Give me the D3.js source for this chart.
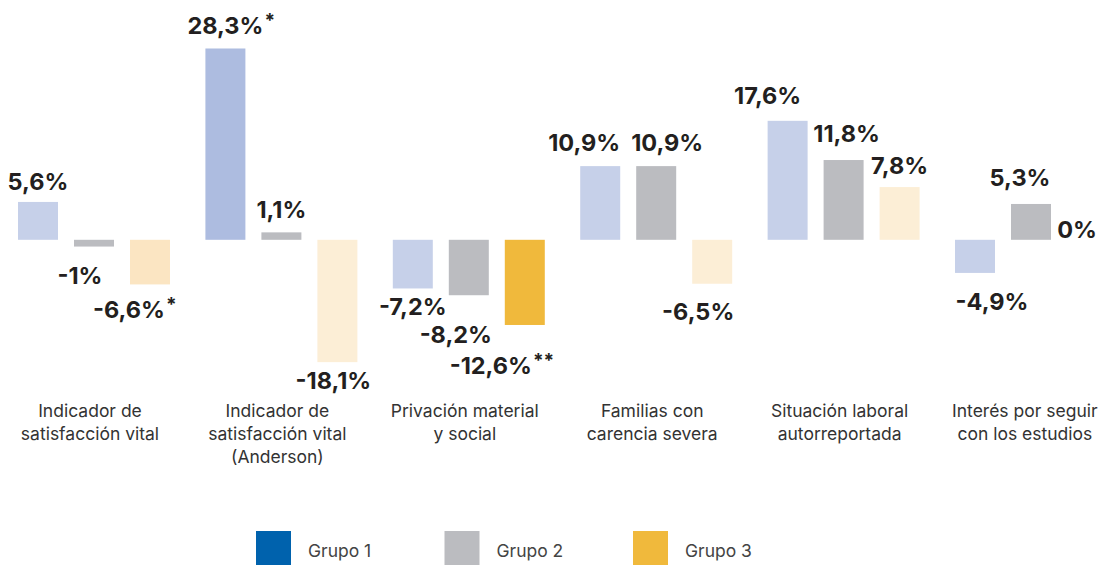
<!DOCTYPE html>
<html lang="es">
<head>
  <meta charset="UTF-8" />
  <title>Grupos - indicadores</title>
  <script src="https://d3js.org/d3.v7.min.js"></script>
  <style>
    body {
      margin: 0;
      background: #fff;
      overflow: hidden;
    }
    svg {
      display: block;
      font-family: Inter, "Noto Sans", sans-serif;
    }
    .val { font-weight: 700; font-size: 23.5px; fill: #231f20; }
    .star { font-weight: 700; font-size: 19px; fill: #231f20; }
    .cat { font-size: 17.5px; fill: #333; }
    .leg { font-size: 17.5px; fill: #444; }
  </style>
</head>
<body>
<svg id="chart" width="1101" height="565"></svg>
<script>
const categories = [
  ["Indicador de", "satisfacción vital"],
  ["Indicador de", "satisfacción vital", "(Anderson)"],
  ["Privación material", "y social"],
  ["Familias con", "carencia severa"],
  ["Situación laboral", "autorreportada"],
  ["Interés por seguir", "con los estudios"]
];
const groups = ["Grupo 1", "Grupo 2", "Grupo 3"];

const grupo1 = [5.6, 28.3, -7.2, 10.9, 17.6, -4.9];
const grupo2 = [-1, 1.1, -8.2, 10.9, 11.8, 5.3];
const grupo3 = [-6.6, -18.1, -12.6, -6.5, 7.8, 0];

// significance marks
const stars1 = ["", "*", "", "", "", ""];
const stars2 = ["", "", "", "", "", ""];
const stars3 = ["*", "", "**", "", "", ""];

const values = [grupo1, grupo2, grupo3];
const stars = [stars1, stars2, stars3];

// label nudges (dx, dy) per group / category, to keep labels clear of each other
const nudge = [
  [[0, 2], [0, 0], [0, -4], [-16, -1], [-20, -3], [17, 6]],
  [[-14, 6], [0, 0], [-13, 17], [11, -1], [3, -4], [-11, -4]],
  [[-21, 3], [-4, -4], [-34, 18], [-14, 5], [0, 1], [-10, 12]]
];

const width = 1101, height = 565;
const svg = d3.select("#chart");

const legendColor = ["#0062ad", "#bbbcc0", "#f0b93c"];
const fillFor = (g, s) => {
  if (g === 0) return s ? "#adbce0" : "#c6d0e9";
  if (g === 1) return "#bbbcc0";
  if (s === "**") return "#f0b93c";
  return s ? "#fbe5c2" : "#fceed6";
};

const x0 = d3.scaleBand()
  .domain(d3.range(categories.length))
  .range([18, 1107])
  .paddingInner(0.189)
  .paddingOuter(0);

const x1 = d3.scaleBand()
  .domain(d3.range(groups.length))
  .range([0, x0.bandwidth()])
  .paddingInner(0.2857)
  .paddingOuter(0);

const y = d3.scaleLinear().domain([-20, 30]).range([375, 37]);

const rows = [];
categories.forEach((c, ci) => {
  groups.forEach((g, gi) => {
    rows.push({ ci, gi, v: values[gi][ci], s: stars[gi][ci] });
  });
});

svg.append("g").selectAll("rect")
  .data(rows)
  .join("rect")
  .attr("x", d => x0(d.ci) + x1(d.gi))
  .attr("width", x1.bandwidth())
  .attr("y", d => y(Math.max(0, d.v)))
  .attr("height", d => Math.abs(y(d.v) - y(0)))
  .attr("fill", d => fillFor(d.gi, d.s));

const fmt = v => d3.format(",")(v).replace(".", ",").replace("−", "-") + "%";

const labels = svg.append("g");
rows.forEach(d => {
  const cx = x0(d.ci) + x1(d.gi) + x1.bandwidth() / 2 + nudge[d.gi][d.ci][0];
  const base = (d.v >= 0 ? y(d.v) - 14 : y(d.v) + 31) + nudge[d.gi][d.ci][1];
  const t = labels.append("text")
    .attr("class", "val")
    .attr("x", cx)
    .attr("y", base)
    .attr("text-anchor", "middle")
    .text(fmt(d.v));
  if (d.s) {
    const w = t.node().getComputedTextLength();
    labels.append("text")
      .attr("class", "star")
      .attr("x", cx + w / 2 + 1)
      .attr("y", base - 7)
      .text(d.s);
  }
});

// category labels
const catG = svg.append("g");
categories.forEach((lines, ci) => {
  let cx = x0(ci) + x0.bandwidth() / 2 - 4;
  const t = catG.append("text")
    .attr("class", "cat")
    .attr("text-anchor", "middle")
    .attr("y", 417);
  lines.forEach((l, i) => {
    t.append("tspan").attr("x", cx).attr("dy", i === 0 ? 0 : 23).text(l);
  });
  const bb = t.node().getBBox();
  if (bb.x + bb.width > width - 3) {
    cx -= bb.x + bb.width - (width - 3);
    t.selectAll("tspan").attr("x", cx);
  }
});

// legend
const lx = d3.scalePoint().domain(groups).range([256, 633]);
const leg = svg.append("g").selectAll("g")
  .data(groups)
  .join("g")
  .attr("transform", d => `translate(${lx(d)},531)`);
leg.append("rect")
  .attr("width", 35)
  .attr("height", 35)
  .attr("fill", (d, i) => legendColor[i]);
leg.append("text")
  .attr("class", "leg")
  .attr("x", 52)
  .attr("y", 26)
  .text(d => d);
</script>
</body>
</html>
